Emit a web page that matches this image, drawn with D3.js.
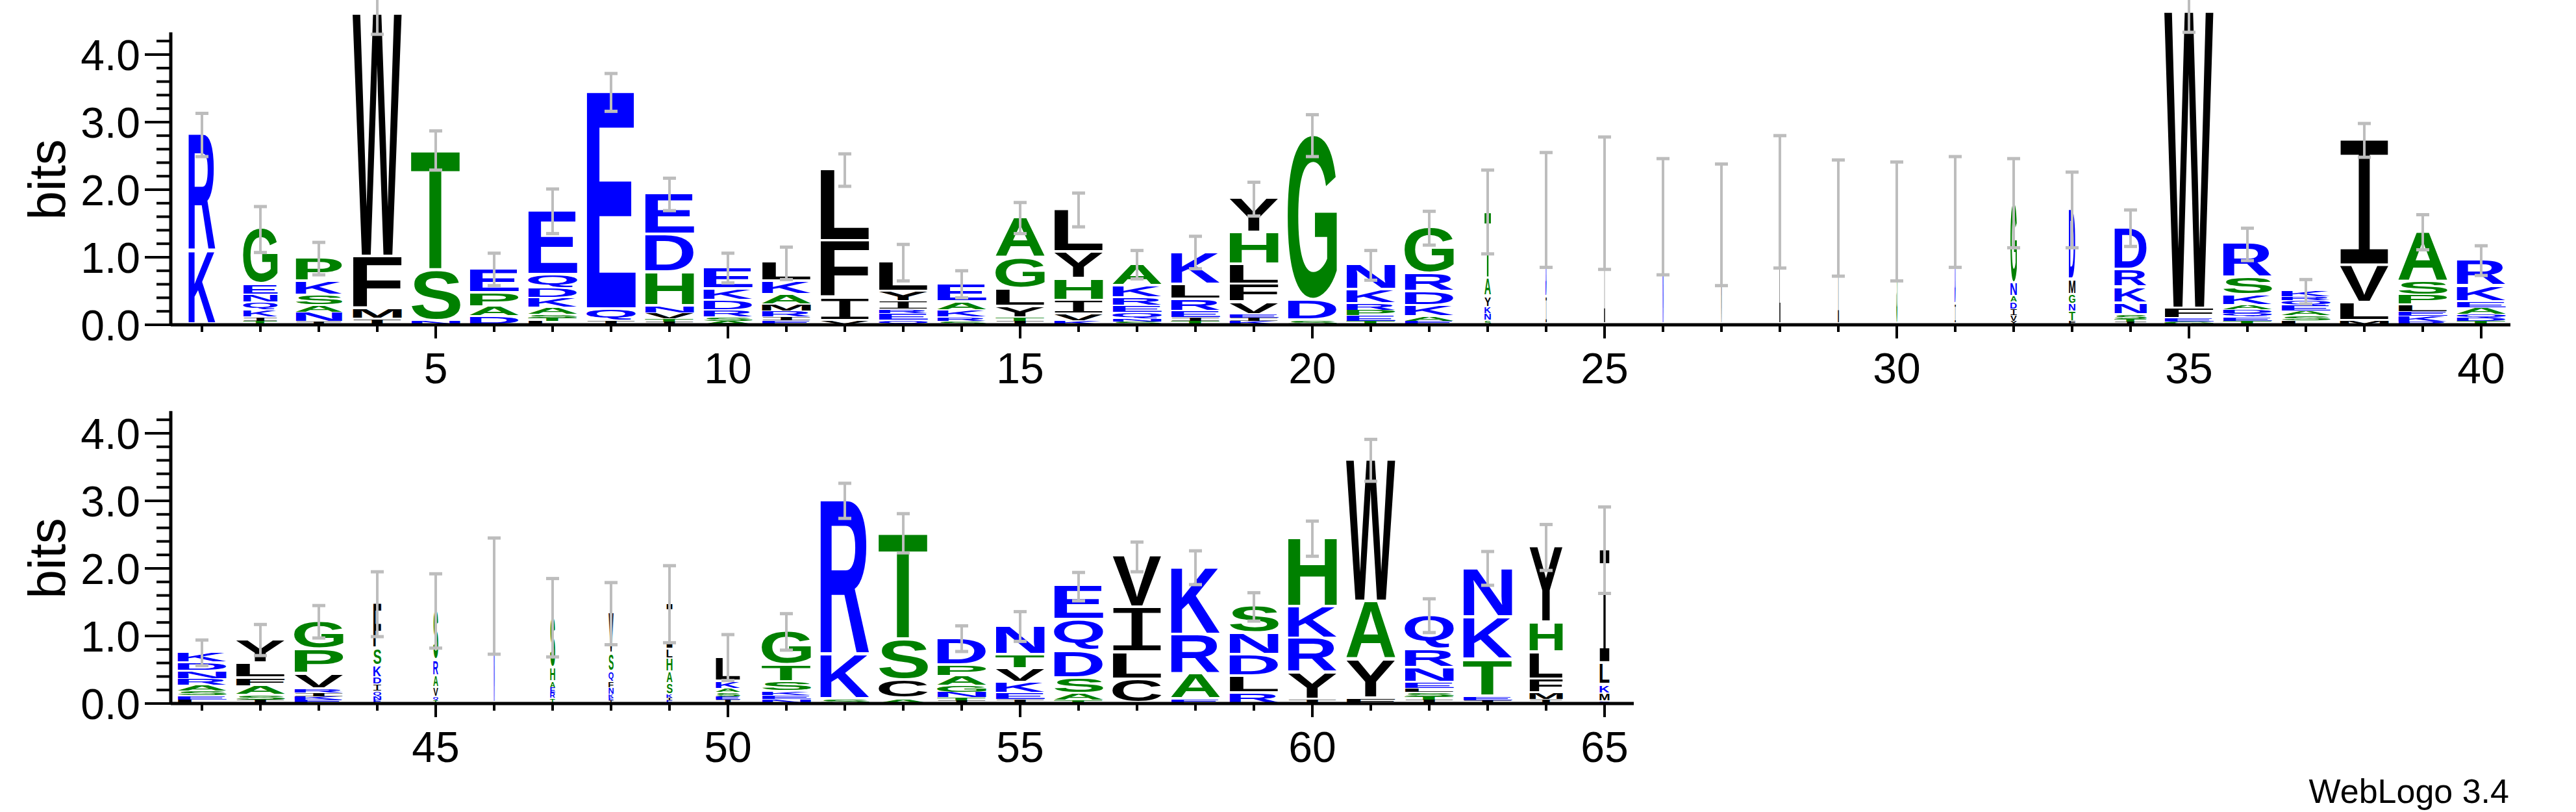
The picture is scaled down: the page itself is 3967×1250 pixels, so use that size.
<!DOCTYPE html>
<html><head><meta charset="utf-8">
<script src="https://cdnjs.cloudflare.com/ajax/libs/d3/7.8.5/d3.min.js"></script>
<style>body{margin:0;background:#fff}svg{display:block}</style>
</head><body>
<svg id="c" width="3967" height="1250"></svg>
<script>
// letters bottom -> top, with heights in bits
const positions = d3.range(1, 66);
const letters = [
 "KR","TIKQNEG","INASKP","IMFW","NST","DAPE","LTSAKDQE","IQE","ITVNHDE","ASRDKE",
 "EIRMAKL","VIFL","QERIYL","SRKAE","ITYLGA","KVIHYL","SNQERKA","TIERLK","KIEVFLHY","SDG",
 "TEPRKN","EAKDRG","SNKYAT","ID","I","N","V","L","I","S",
 "ID","YVIDANG","FTNGMD","ITSNKRD","GEFW","TEQDAKSR","LSAEQRK","MLVI","RKELPSA","TDQAEKR",
 "LESARNDK","ISAFLY","EKIRVPG","ENQIDKSF","TQVARS","N","TREAHS","IEKNFQSV","EIKSAHLI","IESAKL",
 "NEKSTG","SKR","ACST","ITNGAPD","IEKVTN","TASDQE","CLIV","EARK","RLDNS","IYRKH",
 "FYAW","ITSLENRQ","IETKN","IMFLHY","EMKLI"
];
const heights = [
 [1.09,1.72],[0.05,0.06,0.1,0.12,0.11,0.15,0.82],[0.04,0.14,0.1,0.15,0.2,0.35],[0.08,0.14,0.78,3.6],[0.05,0.75,1.78],
 [0.12,0.14,0.2,0.36],[0.05,0.05,0.05,0.1,0.14,0.14,0.2,0.95],[0.05,0.17,3.22],[0.04,0.04,0.09,0.1,0.5,0.56,0.6],[0.05,0.06,0.1,0.15,0.16,0.32],
 [0.06,0.05,0.09,0.1,0.14,0.19,0.28],[0.05,0.33,0.85,1.06],[0.06,0.1,0.06,0.12,0.14,0.44],[0.05,0.06,0.1,0.12,0.27],[0.05,0.05,0.16,0.26,0.46,0.6],
 [0.05,0.1,0.2,0.32,0.4,0.63],[0.04,0.04,0.1,0.1,0.12,0.17,0.32],[0.05,0.05,0.1,0.17,0.22,0.48],[0.05,0.05,0.05,0.17,0.27,0.29,0.48,0.5],[0.06,0.3,2.44],
 [0.05,0.08,0.08,0.1,0.2,0.37],[0.05,0.07,0.16,0.2,0.27,0.68],[0.06,0.1,0.1,0.15,0.27,0.99],[0.4,1.3],[1.8],
 [1.6],[1.48],[1.82],[1.58],[1.53],
 [0.3,1.37],[0.05,0.08,0.1,0.1,0.08,0.2,1.19],[0.05,0.14,0.12,0.13,0.22,1.04],[0.04,0.04,0.07,0.16,0.24,0.26,0.62],[0.04,0.05,0.14,4.4],
 [0.05,0.06,0.06,0.05,0.07,0.14,0.26,0.5],[0.06,0.07,0.07,0.08,0.08,0.05,0.08],[0.05,0.27,0.55,1.86],[0.04,0.08,0.07,0.1,0.14,0.2,0.74],[0.05,0.05,0.05,0.1,0.08,0.24,0.38],
 [0.05,0.06,0.07,0.08,0.1,0.12,0.12,0.15],[0.05,0.07,0.13,0.12,0.22,0.35],[0.05,0.05,0.05,0.06,0.22,0.36,0.42],[0.05,0.05,0.08,0.1,0.1,0.17,0.25,0.67],[0.04,0.06,0.13,0.17,0.23,0.74],
 [1.59],[0.07,0.08,0.08,0.09,0.2,0.75],[0.04,0.04,0.05,0.1,0.08,0.15,0.27,0.6],[0.04,0.04,0.05,0.16,0.17,0.2,0.13,0.68],[0.05,0.05,0.06,0.06,0.1,0.36],
 [0.06,0.06,0.06,0.13,0.25,0.5],[0.06,0.66,2.28],[0.06,0.28,0.6,1.58],[0.04,0.04,0.08,0.1,0.14,0.16,0.4],[0.05,0.1,0.16,0.2,0.2,0.43],
 [0.04,0.1,0.23,0.4,0.46,0.5],[0.35,0.4,0.66,0.76],[0.06,0.37,0.58,1.0],[0.15,0.24,0.32,0.32,0.4],[0.05,0.4,0.5,0.47,1.02],
 [0.07,0.57,0.86,2.1],[0.05,0.05,0.06,0.06,0.08,0.22,0.27,0.51],[0.04,0.06,0.54,0.63,0.73],[0.05,0.1,0.2,0.4,0.44,1.12],[0.03,0.12,0.12,0.32,1.68]
];
const widths = [
 0.55,0.7,0.95,1,1,1,1,1,1,1, 1,1,1,1,1,1,1,1,1,1, 1,1,0.13,0.02,0.02,0.02,0.02,0.02,0.02,0.02,
 0.02,0.13,0.13,0.66,1,1,1,1,1,1, 1,1,1,0.16,0.1,0.015,0.1,0.1,0.12,0.5,
 1,1,1,1,1,1,1,1,1,1, 1,1,1,0.68,0.2
];
const errors = [
 0.32,0.34,0.24,0.3,0.29,0.24,0.33,0.28,0.24,0.22, 0.24,0.24,0.27,0.2,0.23,0.25,0.21,0.24,0.25,0.31,
 0.22,0.25,0.62,0.85,0.98,0.86,0.9,0.98,0.86,0.88, 0.82,0.66,0.56,0.27,0.3,0.24,0.18,0.25,0.26,0.22,
 0.19,0.23,0.24,0.48,0.55,0.86,0.58,0.46,0.57,0.34, 0.27,0.26,0.29,0.19,0.22,0.21,0.22,0.25,0.21,0.26,
 0.31,0.25,0.25,0.34,0.64
];
const blueSet = "RKEDQN", greenSet = "GSTAPH";
const colorOf = ch => blueSet.includes(ch) ? "#0000ff" : greenSet.includes(ch) ? "#008000" : "#000000";
const familyOf = ch => ch === "I" ? "Liberation Mono" : "Liberation Sans";
const weightOf = ch => ch === "I" ? "normal" : "bold";

const svg = d3.select("#c");
const ctx = document.createElement("canvas").getContext("2d");
const metrics = {};
function met(ch){ if(!metrics[ch]){ctx.font = `${weightOf(ch)} 100px '${familyOf(ch)}'`;const m=ctx.measureText(ch);metrics[ch]={l:m.actualBoundingBoxLeft,r:m.actualBoundingBoxRight,a:m.actualBoundingBoxAscent,d:m.actualBoundingBoxDescent};} return metrics[ch]; }

const panels = [
 {first:1,last:40,base:500},
 {first:41,last:65,base:1083}
];
const axisX = 263, x0 = 311, step = 90, fullW = 76, bitsPx = 104;

panels.forEach(p => {
  const x = d3.scaleLinear().domain([p.first, p.last]).range([x0, x0 + (p.last - p.first) * step]);
  const y = d3.scaleLinear().domain([0, 4.32]).range([p.base, p.base - 4.32 * bitsPx]);
  const g = svg.append("g");
  const pos = positions.filter(i => i >= p.first && i <= p.last);
  pos.forEach(i => {
    const k = i - 1, cx = x(i);
    const w = Math.max(1.5, widths[k] * fullW);
    let cum = 0;
    letters[k].split("").forEach((ch, j) => {
      const h = heights[k][j];
      const yb0 = y(cum), yt = y(cum + h);
      cum += h;
      const gap = Math.min(4, (yb0 - yt) * 0.15);
      const yb = yb0 - gap;
      const m = met(ch);
      const sx = w / (m.l + m.r), sy = (yb - yt) / (m.a + m.d);
      g.append("text").text(ch)
        .attr("font-family", familyOf(ch)).attr("font-weight", weightOf(ch)).attr("font-size", 100)
        .attr("fill", colorOf(ch))
        .attr("transform", `translate(${cx - w/2 + m.l*sx},${yb - m.d*sy}) scale(${sx},${sy})`);
    });
    const e = errors[k], t = d3.sum(heights[k]);
    const eg = g.append("g").attr("stroke", "#bdbdbd");
    eg.append("line").attr("x1", cx).attr("x2", cx).attr("y1", y(t - e)).attr("y2", y(t + e)).attr("stroke-width", 4);
    [t - e, t + e].forEach(v => eg.append("line").attr("x1", cx - 10).attr("x2", cx + 10).attr("y1", y(v)).attr("y2", y(v)).attr("stroke-width", 5));
  });
  const xa = g.append("g");
  xa.append("line").attr("x1", axisX).attr("x2", x(p.last) + 45).attr("y1", p.base).attr("y2", p.base).attr("stroke", "#000").attr("stroke-width", 5);
  pos.forEach(i => {
    const major = i % 5 === 0;
    xa.append("line").attr("x1", x(i)).attr("x2", x(i)).attr("y1", p.base).attr("y2", p.base + (major ? 21 : 11)).attr("stroke", "#000").attr("stroke-width", 4);
    if (major) xa.append("text").text(i).attr("x", x(i)).attr("y", p.base + 90).attr("text-anchor", "middle")
      .attr("font-family", "Liberation Sans").attr("font-size", 66);
  });
  const ya = g.append("g");
  ya.append("line").attr("x1", axisX).attr("x2", axisX).attr("y1", p.base + 2).attr("y2", y(4.33)).attr("stroke", "#000").attr("stroke-width", 5);
  d3.range(0, 4.3, 0.2).forEach(v => {
    const major = Math.abs(v - Math.round(v)) < 1e-6;
    ya.append("line").attr("x1", axisX - (major ? 40 : 22)).attr("x2", axisX).attr("y1", y(v)).attr("y2", y(v)).attr("stroke", "#000").attr("stroke-width", 4);
    if (major) ya.append("text").text(v.toFixed(1)).attr("x", 216).attr("y", y(v)).attr("dy", "0.36em").attr("text-anchor", "end")
      .attr("font-family", "Liberation Sans").attr("font-size", 66);
  });
  g.append("text").text("bits").attr("transform", `translate(100,${y(2.15)}) rotate(-90)`).attr("text-anchor", "middle")
    .attr("font-family", "Liberation Sans").attr("font-size", 80);
});
svg.append("text").text("WebLogo 3.4").attr("x", 3864).attr("y", 1236).attr("text-anchor", "end")
  .attr("font-family", "Liberation Sans").attr("font-size", 52);
</script>
</body></html>
